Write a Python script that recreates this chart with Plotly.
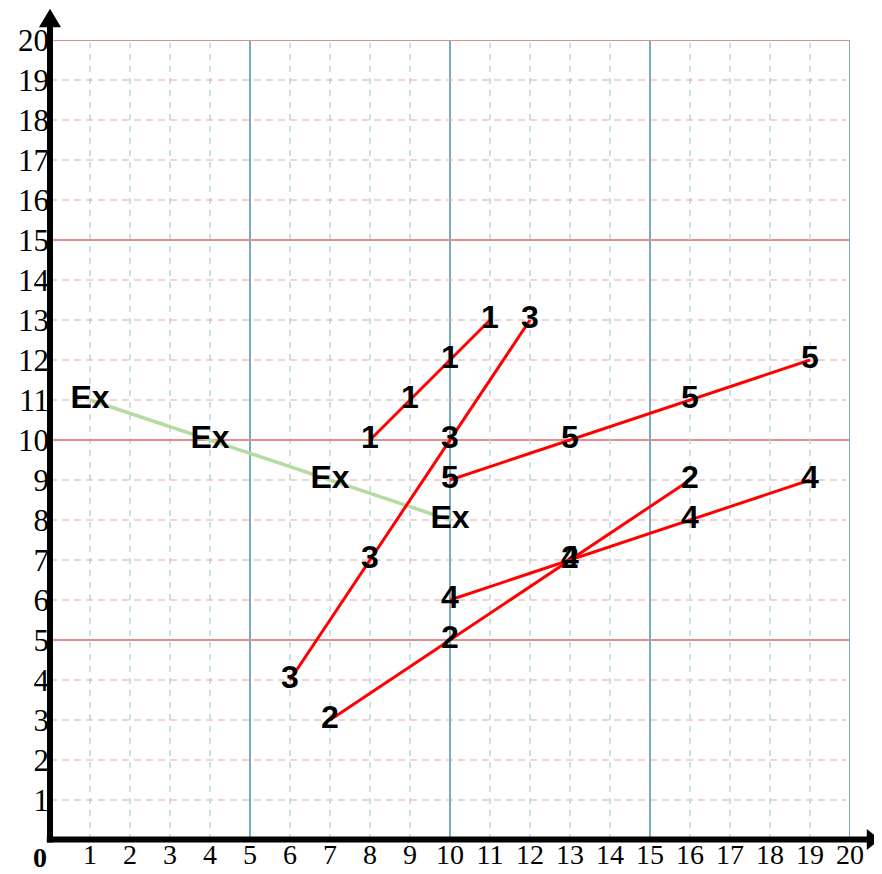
import plotly.graph_objects as go

# ---- data ----
ex_x = [1, 4, 7, 10]
ex_y = [11, 10, 9, 8]
s1_x = [8, 9, 10, 11]
s1_y = [10, 11, 12, 13]
s2_x = [7, 10, 13, 16]
s2_y = [3, 5, 7, 9]
s3_x = [6, 8, 10, 12]
s3_y = [4, 7, 10, 13]
s4_x = [10, 13, 16, 19]
s4_y = [6, 7, 8, 9]
s5_x = [10, 13, 16, 19]
s5_y = [9, 10, 11, 12]
series = [("Ex", ex_x, ex_y, "#b5dba3"),
          ("1", s1_x, s1_y, "#ff0000"),
          ("2", s2_x, s2_y, "#ff0000"),
          ("3", s3_x, s3_y, "#ff0000"),
          ("4", s4_x, s4_y, "#ff0000"),
          ("5", s5_x, s5_y, "#ff0000")]
tick_vals = list(range(1, 21))
tick_text = [str(v) for v in tick_vals]

fig = go.Figure()
for name, xs, ys, col in series:
    fig.add_trace(go.Scatter(
        x=xs, y=ys, mode="lines+text",
        text=[name] * len(xs), textposition="middle center",
        textfont=dict(family="Liberation Sans", size=32, color="black", weight="bold"),
        line=dict(color=col, width=3.5 if name == "Ex" else 3),
        cliponaxis=False, showlegend=False, hoverinfo="skip"))

shapes = []
# grid lines
for v in range(1, 21):
    if v % 5 == 0:
        shapes.append(dict(type="line", xref="x", yref="y", x0=v, x1=v, y0=0, y1=20,
                           line=dict(color="#7aaebf", width=2), layer="below"))
        shapes.append(dict(type="line", xref="x", yref="y", x0=0, x1=20, y0=v, y1=v,
                           line=dict(color="#e38c8c", width=2), layer="below"))
    else:
        shapes.append(dict(type="line", xref="x", yref="y", x0=v, x1=v, y0=0, y1=19.93,
                           line=dict(color="#bcd5de", width=1.5, dash="6px,6px"), layer="below"))
        shapes.append(dict(type="line", xref="x", yref="y", x0=0, x1=19.9, y0=v, y1=v,
                           line=dict(color="#e5a7a7", width=1.2, dash="7px,5px"), layer="below"))

# axes with arrows (paper coords)
shapes.append(dict(type="line", xref="paper", yref="paper", x0=0, x1=0, y0=-0.003, y1=1.017,
                   line=dict(color="black", width=6)))
shapes.append(dict(type="line", xref="paper", yref="paper", x0=-0.004, x1=1.022, y0=0.0006, y1=0.0006,
                   line=dict(color="black", width=6)))
shapes.append(dict(type="path", xref="paper", yref="paper",
                   path="M -0.0138,1.016 L 0.0138,1.016 L 0,1.039 Z",
                   fillcolor="black", line=dict(color="black", width=0)))
shapes.append(dict(type="path", xref="paper", yref="paper",
                   path="M 1.021,0.0138 L 1.021,-0.0125 L 1.0375,0.0006 Z",
                   fillcolor="black", line=dict(color="black", width=0)))

fig.update_layout(
    width=882, height=866,
    margin=dict(l=42, r=40, t=32, b=34),
    plot_bgcolor="white", paper_bgcolor="white",
    shapes=shapes,
    annotations=[dict(text="0", xref="paper", yref="paper", x=-0.0125, y=-0.0005,
                      showarrow=False, xanchor="center", yanchor="top",
                      font=dict(family="Liberation Serif", size=28, color="black", weight="bold"))],
    xaxis=dict(range=[0, 20], tickvals=tick_vals, ticktext=tick_text, showgrid=False,
               zeroline=False, showline=False, ticks="", fixedrange=True, automargin=False,
               ticklabelstandoff=-5,
               tickfont=dict(family="Liberation Serif", size=28, color="black")),
    yaxis=dict(range=[0, 20], tickvals=tick_vals, ticktext=tick_text, showgrid=False,
               zeroline=False, showline=False, ticks="", fixedrange=True, automargin=False,
               tickfont=dict(family="Liberation Serif", size=31, color="black")),
)

fig.write_html("out.html")
